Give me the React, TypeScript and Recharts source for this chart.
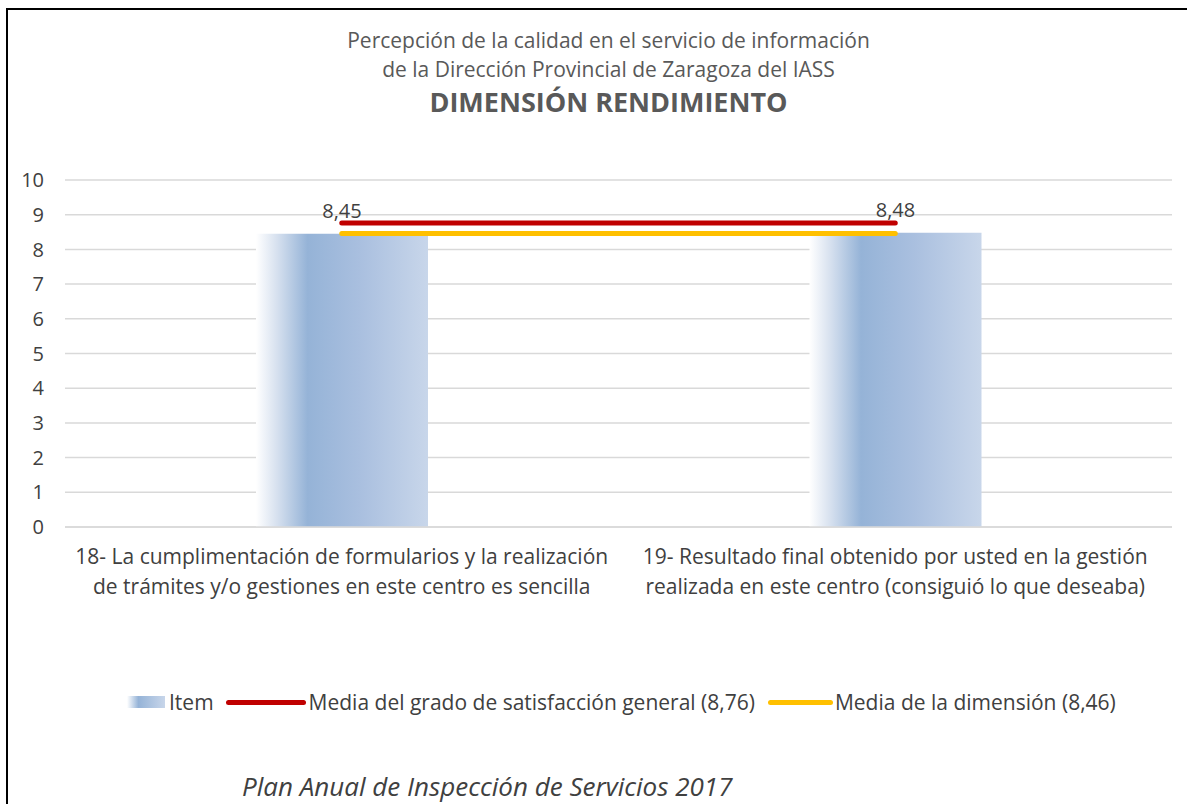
import {ComposedChart, Bar, Line, XAxis, YAxis, CartesianGrid, LabelList} from "recharts";

// chart values
const categoryLines = [
  ["18- La cumplimentación de formularios y la realización", "de trámites y/o gestiones en este centro es sencilla"],
  ["19- Resultado final obtenido por usted en la gestión", "realizada en este centro (consiguió lo que deseaba)"]
];
const itemValues = [8.45, 8.48];
const generalMean = [8.76, 8.76];
const dimensionMean = [8.46, 8.46];
const yTicks = [0, 1, 2, 3, 4, 5, 6, 7, 8, 9, 10];

const data = categoryLines.map((lines, i) => ({
  name: lines.join(" "),
  item: itemValues[i],
  general: generalMean[i],
  dim: dimensionMean[i]
}));

const FONT = "'Open Sans', sans-serif";
const TXT = "#404040";

const XTick = (props : any) => {
  const {x, y, index} = props;
  const lines = categoryLines[index] || [];
  return (<g>
    {lines.map((l, k) => (
      <text key={k} x={x} y={y + k * 30} textAnchor="middle" fontSize={21} fill={TXT} fontFamily={FONT} dy="0.35em">{l}</text>
    ))}
  </g>);
};

const fmt = (v : any) => String(v).replace(".", ",");

const App = () => {
  return (<div style={{position: "absolute", left: 0, top: 0, width: 1187, height: 804, overflow: "hidden", background: "#fff", fontFamily: FONT}}>
    {/* frame */}
    <div style={{position: "absolute", left: 6, top: 8, width: 1300, height: 900, borderTop: "2px solid #000", borderLeft: "2px solid #000"}}/>

    {/* title */}
    <div style={{position: "absolute", left: 0, width: 1217, top: 26, textAlign: "center", color: "#595959", fontSize: 21, lineHeight: "29px"}}>
      Percepción de la calidad en el servicio de información<br/>
      de la Dirección Provincial de Zaragoza del IASS
    </div>
    <div style={{position: "absolute", left: 0, width: 1217, top: 84, textAlign: "center", color: "#595959", fontSize: 27, fontWeight: "bold", lineHeight: "36px"}}>
      DIMENSIÓN RENDIMIENTO
    </div>

    <div style={{position: "absolute", left: 0, top: 0}}>
      <ComposedChart width={1187} height={804} data={data} margin={{top: 180, left: 5, right: 15, bottom: 197}}>
        <defs>
          <linearGradient id="barGrad" x1="0" y1="0" x2="1" y2="0">
            <stop offset="0%" stopColor="#ffffff"/>
            <stop offset="12%" stopColor="#d7e1ef"/>
            <stop offset="30%" stopColor="#95b3d7"/>
            <stop offset="60%" stopColor="#a9bfdf"/>
            <stop offset="100%" stopColor="#c8d6ea"/>
          </linearGradient>
        </defs>
        <CartesianGrid vertical={false} stroke="#d9d9d9" strokeWidth={1.5}/>
        <XAxis dataKey="name" height={80} axisLine={{stroke: "#d9d9d9", strokeWidth: 1.5}} tickLine={false} tickSize={0} tickMargin={30} tick={<XTick/>} interval={0}/>
        <YAxis width={60} domain={[0, 10]} ticks={yTicks} axisLine={false} tickLine={false} tickSize={0} tickMargin={21} tick={{fontSize: 20, fill: TXT, fontFamily: FONT}}/>
        <Bar dataKey="item" fill="url(#barGrad)" barSize={172} isAnimationActive={false}>
          <LabelList dataKey="item" position="top" offset={16} formatter={fmt} style={{fontSize: 20, fill: TXT, fontFamily: FONT}}/>
        </Bar>
        <Line dataKey="general" stroke="#c00000" strokeWidth={5} strokeLinecap="round" dot={false} activeDot={false} isAnimationActive={false}/>
        <Line dataKey="dim" stroke="#ffc000" strokeWidth={5} strokeLinecap="round" dot={false} activeDot={false} isAnimationActive={false}/>
      </ComposedChart>
    </div>

    {/* legend */}
    <div style={{position: "absolute", left: 127, top: 688, display: "flex", alignItems: "center", fontSize: 21, color: TXT, whiteSpace: "nowrap"}}>
      <span style={{display: "inline-block", width: 38, height: 12, background: "linear-gradient(to right, #ffffff, #95b3d7 30%, #c8d6ea)", marginRight: 4}}/>
      <span style={{marginRight: 12}}>Item</span>
      <span style={{display: "inline-block", width: 80, height: 5, borderRadius: 3, background: "#c00000", marginRight: 3}}/>
      <span style={{marginRight: 13}}>Media del grado de satisfacción general (8,76)</span>
      <span style={{display: "inline-block", width: 65, height: 5, borderRadius: 3, background: "#ffc000", marginRight: 2}}/>
      <span>Media de la dimensión (8,46)</span>
    </div>

    {/* footer */}
    <div style={{position: "absolute", left: 242, top: 768, fontSize: 26, fontStyle: "italic", color: TXT}}>
      Plan Anual de Inspección de Servicios 2017
    </div>
  </div>);
};

export default App;
